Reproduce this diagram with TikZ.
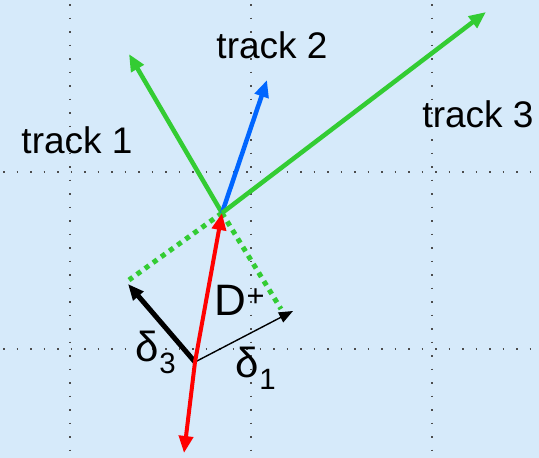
\documentclass[tikz,border=0pt]{standalone}
\usepackage{fontspec}
\setmainfont{Liberation Sans}
\usepackage{xcolor}
\usetikzlibrary{arrows.meta}

\definecolor{bgblue}{RGB}{214,234,250}
\definecolor{trkgreen}{RGB}{51,204,51}
\definecolor{trkblue}{RGB}{0,102,255}
\definecolor{trkred}{RGB}{255,0,0}

\begin{document}
\begin{tikzpicture}[
    x=1pt, y=-1pt,
    grid/.style={
        line width=1.8pt,
        dash pattern=on 1.8pt off 11.7pt,
        color=black!70
    },
    track/.style={
        -{Triangle[length=17pt,width=14pt]},
        line width=4.5pt
    },
    flight/.style={
        trkgreen,
        line width=5pt,
        dash pattern=on 5pt off 5pt
    },
    delta/.style={
        -{Triangle[length=16pt,width=13pt]},
        black
    },
    label/.style={
        font=\fontsize{37}{42}\selectfont,
        inner sep=0pt
    }
]

%---------------------------------------------------------------------
% Background and grid
%---------------------------------------------------------------------

\fill[bgblue] (0,0) rectangle (539,458);
\useasboundingbox (0,0) rectangle (539,458);

\foreach \gx in {70,251,432}
    \draw[grid] (\gx,4) -- (\gx,458);
\foreach \gy in {172,349}
    \draw[grid] (3,\gy) -- (539,\gy);

%---------------------------------------------------------------------
% Vertices and end points
%---------------------------------------------------------------------

\coordinate (pv) at (195,362);
\coordinate (sv) at (222,213);
\coordinate (t1end) at (129,54);
\coordinate (t2end) at (267,80);
\coordinate (t3end) at (486,12);
\coordinate (d3end) at (128,284);
\coordinate (d1end) at (293,311);
\coordinate (f3end) at (129,280);
\coordinate (f1end) at (281,309);
\coordinate (dbot) at (184,453);

%---------------------------------------------------------------------
% Flight lines and impact parameters
%---------------------------------------------------------------------

\draw[flight] (sv) -- (f3end);
\draw[flight] (sv) -- (f1end);

\draw[delta, line width=5pt] (pv) -- (d3end);
\draw[delta, line width=1.4pt, -{Triangle[length=14pt,width=11pt]}] (pv) -- (d1end);

%---------------------------------------------------------------------
% Tracks
%---------------------------------------------------------------------

\draw[track, trkred, line width=4pt] (pv) -- (sv);
\draw[track, trkred, line width=4pt] (pv) -- (dbot);

\draw[track, trkgreen] (sv) -- (t1end);
\draw[track, trkblue] (sv) -- (t2end);
\draw[track, trkgreen] (sv) -- (t3end);

%---------------------------------------------------------------------
% Labels
%---------------------------------------------------------------------

\node[label] (lt1) at (77,140) {track 1};
\node[label] (lt2) at (272,45) {track 2};
\node[label] (lt3) at (478,114) {track 3};
\node[label, font=\fontsize{44}{48}\selectfont] (ld) at (240,300) {D\textsuperscript{+}};
\node[label, font=\fontsize{42}{46}\selectfont] (ld3) at (156,352) {δ\textsubscript{3}};
\node[label, font=\fontsize{42}{46}\selectfont] (ld1) at (256,368) {δ\textsubscript{1}};

\end{tikzpicture}
\end{document}
